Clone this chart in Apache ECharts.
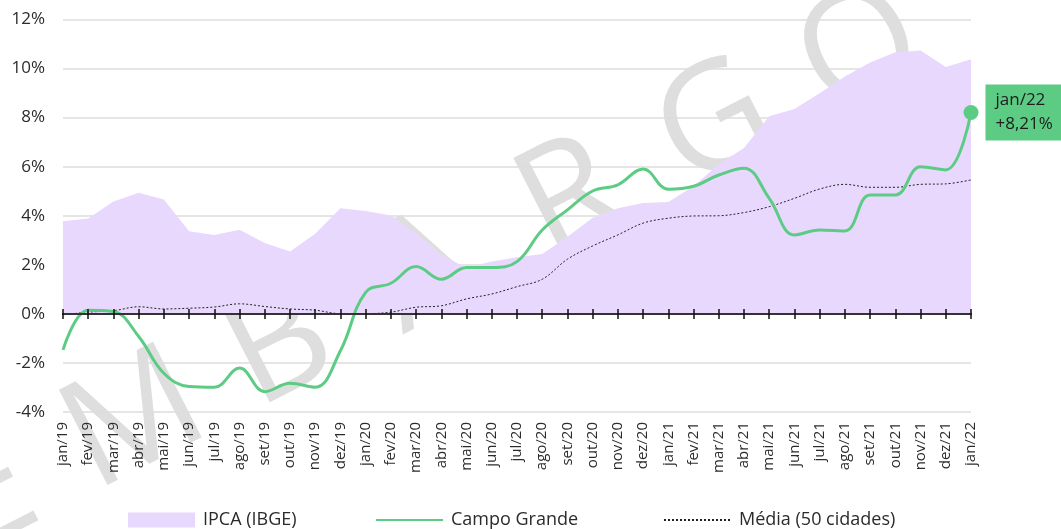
<!DOCTYPE html>
<html>
<head>
<meta charset="utf-8">
<script src="https://cdn.jsdelivr.net/npm/echarts@6/dist/echarts.min.js"></script>
<style>
  html, body { margin: 0; padding: 0; background: #ffffff; }
  #chart { width: 1061px; height: 529px; }
</style>
</head>
<body>
<div id="chart"></div>
<script>
// Monthly categories (12-month accumulated inflation)
const months = [
  'jan/19','fev/19','mar/19','abr/19','mai/19','jun/19','jul/19','ago/19','set/19','out/19','nov/19','dez/19',
  'jan/20','fev/20','mar/20','abr/20','mai/20','jun/20','jul/20','ago/20','set/20','out/20','nov/20','dez/20',
  'jan/21','fev/21','mar/21','abr/21','mai/21','jun/21','jul/21','ago/21','set/21','out/21','nov/21','dez/21',
  'jan/22'
];

// IPCA (IBGE), % in 12 months
const ipca = [
  3.78, 3.89, 4.58, 4.94, 4.66, 3.37, 3.22, 3.43, 2.89, 2.54, 3.27, 4.31,
  4.19, 4.01, 3.30, 2.40, 1.88, 2.13, 2.31, 2.44, 3.14, 3.92, 4.31, 4.52,
  4.56, 5.20, 6.10, 6.76, 8.06, 8.35, 8.99, 9.68, 10.25, 10.67, 10.74, 10.06,
  10.38
];

// Campo Grande, % in 12 months
const campoGrande = [
  -1.47, 0.15, 0.10, -0.92, -2.42, -2.96, -2.99, -2.21, -3.17, -2.83, -2.99, -1.50,
  0.88, 1.25, 1.93, 1.41, 1.89, 1.89, 2.13, 3.42, 4.24, 5.01, 5.26, 5.91,
  5.08, 5.20, 5.66, 5.94, 4.71, 3.22, 3.42, 3.38, 4.85, 4.85, 6.00, 5.87,
  8.21
];

// Média (50 cidades), % in 12 months
const media50 = [
  -0.04, 0.07, 0.13, 0.29, 0.20, 0.23, 0.28, 0.41, 0.30, 0.20, 0.15, 0.01,
  0.01, 0.07, 0.27, 0.33, 0.61, 0.81, 1.11, 1.41, 2.23, 2.77, 3.22, 3.70,
  3.90, 3.99, 4.00, 4.13, 4.37, 4.71, 5.09, 5.28, 5.16, 5.16, 5.28, 5.30,
  5.46
];

// Value axis ticks (%)
const yMin = -4;
const yMax = 12;
const yStep = 2;

const seriesNames = ['IPCA (IBGE)', 'Campo Grande', 'Média (50 cidades)'];

const FONT = "'Open Sans', 'Noto Sans', sans-serif";
const TEXT = '#2b2b2b';
const LAVENDER = '#e9d8fd';
const GREEN = '#5ccb84';

const fmtPct = v => (v >= 0 ? '+' : '') + v.toFixed(2).replace('.', ',') + '%';

const last = campoGrande.length - 1;
const campoData = campoGrande.map((v, i) => i === last ? {
  value: v,
  symbol: 'circle',
  symbolSize: 15,
  itemStyle: { color: GREEN },
  label: {
    show: true,
    position: 'right',
    distance: 7,
    formatter: () => months[last] + '\n' + fmtPct(v),
    backgroundColor: GREEN,
    color: '#1d1d1d',
    fontFamily: FONT,
    fontSize: 17,
    lineHeight: 24,
    padding: [4, 10, 4, 10]
  }
} : v);

// "EMBARGO" watermark, laid out letter by letter along a diagonal
const stamp = 'EMBARGO';
const stampAngle = 27 * Math.PI / 180;
const stampStep = 163;
const stampStart = [-10, 497];
const watermark = stamp.split('').map((ch, i) => ({
  type: 'text',
  z: -5,
  silent: true,
  x: stampStart[0] + i * stampStep * Math.cos(stampAngle),
  y: stampStart[1] - i * stampStep * Math.sin(stampAngle),
  rotation: stampAngle,
  style: {
    text: ch,
    fill: '#dedede',
    font: "150px " + FONT,
    textAlign: 'center',
    textVerticalAlign: 'middle'
  }
}));

const legendBase = {
  top: 511,
  itemWidth: 67,
  itemHeight: 15,
  padding: 0,
  textStyle: { fontFamily: FONT, fontSize: 18, color: TEXT, padding: [0, 0, 0, 3] }
};

const zeroAxisBase = {
  type: 'category',
  data: months,
  boundaryGap: false,
  z: 10,
  axisLine: { show: true, onZero: true, onZeroAxisIndex: 0, lineStyle: { color: '#333', width: 2 } },
  axisTick: { show: true, length: 5, interval: 0, lineStyle: { color: '#111', width: 1.5 } },
  axisLabel: { show: false },
  splitLine: { show: false }
};

const chart = echarts.init(document.getElementById('chart'), null, { renderer: 'canvas' });

chart.setOption({
  animation: false,
  backgroundColor: '#ffffff',
  textStyle: { fontFamily: FONT },
  graphic: { elements: watermark },
  grid: { left: 63, right: 90, top: 19.5, bottom: 117, outerBoundsMode: 'none' },
  legend: [
    Object.assign({}, legendBase, { left: 128, data: [{ name: seriesNames[0], icon: 'rect' }] }),
    Object.assign({}, legendBase, { left: 375, data: [{ name: seriesNames[1], itemStyle: { opacity: 0 } }] }),
    Object.assign({}, legendBase, { left: 663, data: [{ name: seriesNames[2], itemStyle: { opacity: 0 } }] })
  ],
  xAxis: [
    {
      type: 'category',
      data: months,
      boundaryGap: false,
      position: 'bottom',
      axisLine: { show: false, onZero: false },
      axisTick: { show: false },
      axisLabel: {
        interval: 0,
        rotate: 90,
        margin: 10,
        fontFamily: FONT,
        fontSize: 15,
        color: TEXT
      },
      splitLine: { show: false }
    },
    Object.assign({}, zeroAxisBase, { position: 'bottom' }),
    Object.assign({}, zeroAxisBase, { position: 'top' })
  ],
  yAxis: {
    type: 'value',
    min: yMin,
    max: yMax,
    interval: yStep,
    axisLine: { show: false },
    axisTick: { show: false },
    axisLabel: {
      margin: 18,
      fontFamily: FONT,
      fontSize: 17,
      color: TEXT,
      formatter: '{value}%'
    },
    splitLine: { show: true, lineStyle: { color: '#dddddd', width: 1.5 } }
  },
  series: [
    {
      name: seriesNames[0],
      type: 'line',
      data: ipca,
      symbol: 'none',
      z: 1,
      itemStyle: { color: LAVENDER },
      lineStyle: { width: 0, color: LAVENDER },
      areaStyle: { color: LAVENDER, opacity: 1 }
    },
    {
      name: seriesNames[2],
      type: 'line',
      data: media50,
      symbol: 'none',
      smooth: 0.35,
      z: 3,
      itemStyle: { color: '#222' },
      lineStyle: { color: '#222', width: 1, type: [2, 2] }
    },
    {
      name: seriesNames[1],
      type: 'line',
      data: campoData,
      symbol: 'none',
      smooth: 0.4,
      z: 4,
      itemStyle: { color: GREEN },
      lineStyle: { color: GREEN, width: 3 }
    }
  ]
});
</script>
</body>
</html>
